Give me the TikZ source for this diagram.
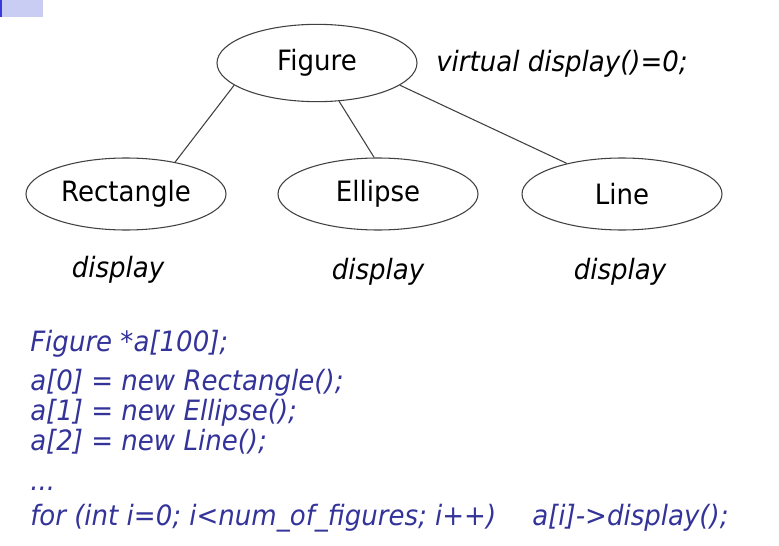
\documentclass[tikz,border=0pt]{standalone}
\usepackage{fontspec}
\setmainfont{DejaVu Sans}[FakeStretch=0.93]
\usetikzlibrary{shapes.geometric}
\definecolor{codeblue}{HTML}{333399}
\definecolor{edgegray}{HTML}{404040}
\definecolor{tabfill}{HTML}{C9CCF3}
\definecolor{tabedge}{HTML}{3A3AD8}
\tikzset{
  cls/.style={ellipse, draw=edgegray, line width=0.8pt, minimum width=150pt,
    minimum height=54pt, inner sep=0pt},
  meth/.style={font=\fontsize{21}{25}\selectfont\itshape, inner sep=0pt},
  code/.style={meth, text=codeblue, anchor=base west},
}
\begin{document}
\begin{tikzpicture}[x=0.75pt, y=-0.75pt, every node/.style={font=\fontsize{21}{25}\selectfont}]
  \useasboundingbox (0,0) rectangle (779,546);
  % slide tab
  \fill[tabfill] (0,0) rectangle (43,17);
  \draw[tabedge, line width=1.5pt] (1,0) -- (1,17);

  % class tree
  \node[cls, minimum height=58pt] (fig) at (317,63) {Figure};
  \node[cls] (rect) at (126,194) {Rectangle};
  \node[cls] (ell) at (378,194) {Ellipse};
  \node[cls] (line) at (622,194) {Line};
  \draw[edgegray, line width=0.8pt] (fig.-165) -- (rect.33);
  \draw[edgegray, line width=0.8pt] (fig.-60) -- (ell.96);
  \draw[edgegray, line width=0.8pt] (fig.-15) -- (line.151);

  % methods
  \node[meth, anchor=base west] (virt) at (436,71) {virtual display()=0;};
  \foreach \n/\x/\y in {rect/118/277, ell/378/279, line/620/279}
    \node[meth, anchor=base] (disp\n) at (\x,\y) {display};

  % code
  \node[code] (c1) at (30,351) {Figure *a[100];};
  \node[code] (c2) at (30,390) {a[0] = new Rectangle();};
  \node[code] (c3) at (30,420) {a[1] = new Ellipse();};
  \node[code] (c4) at (30,450) {a[2] = new Line();};
  \node[code] (c5) at (30,490) {...};
  \node[code] (c6) at (30,525) {for (int i=0; i<num\_of\_figures; i++)};
  \node[code] (c7) at (532,525) {a[i]->display();};
\end{tikzpicture}
\end{document}
